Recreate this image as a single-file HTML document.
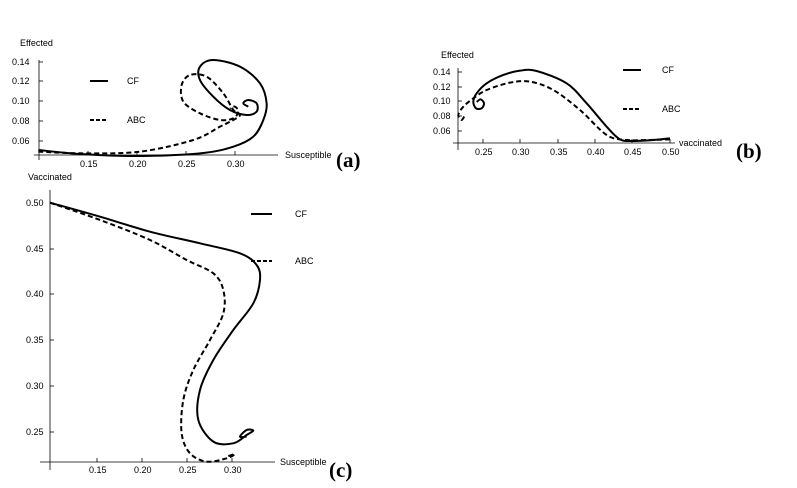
<!DOCTYPE html>
<html><head><meta charset="utf-8"><style>
body{margin:0;background:#fff;width:797px;height:488px;overflow:hidden}
svg{display:block}
text{font-family:"Liberation Sans",sans-serif;font-size:9px;fill:#000}
.lb{font-family:"Liberation Serif",serif;font-weight:bold;font-size:21px}
</style></head><body>
<svg width="797" height="488" viewBox="0 0 797 488">
<!-- (a) -->
<g stroke="#000" stroke-width="0.8" fill="none">
<line x1="39" y1="60" x2="39" y2="160"/>
<line x1="34" y1="155" x2="278" y2="155"/>
<line x1="88" y1="155" x2="88" y2="151"/><line x1="137" y1="155" x2="137" y2="151"/><line x1="186" y1="155" x2="186" y2="151"/><line x1="235" y1="155" x2="235" y2="151"/>
<line x1="39" y1="62" x2="43" y2="62"/><line x1="39" y1="81" x2="43" y2="81"/><line x1="39" y1="101" x2="43" y2="101"/><line x1="39" y1="121" x2="43" y2="121"/><line x1="39" y1="141" x2="43" y2="141"/>
</g>
<text x="20" y="46">Effected</text>
<text x="12" y="65">0.14</text><text x="12" y="84">0.12</text><text x="12" y="104">0.10</text><text x="12" y="124">0.08</text><text x="12" y="144">0.06</text>
<text x="80" y="167">0.15</text><text x="129" y="167">0.20</text><text x="178" y="167">0.25</text><text x="227" y="167">0.30</text>
<text x="285" y="158">Susceptible</text>
<text class="lb" x="336" y="167">(a)</text>
<line x1="90" y1="81" x2="108" y2="81" stroke="#000" stroke-width="2"/><text x="127" y="84">CF</text>
<line x1="90" y1="120" x2="108" y2="120" stroke="#000" stroke-width="2" stroke-dasharray="4,2"/><text x="127" y="123">ABC</text>
<g transform="translate(0,30) scale(0.3333)" fill="none" stroke="#000" stroke-width="6" stroke-linejoin="round">
<polyline class="s" points="115,360 240,372 400,378 600,370 700,350 760,320 790,270 800,220 780,160 720,110 640,90 600,110 600,150 640,200 690,240 740,255 770,245 770,220 745,210 730,220 745,230"/>
<polyline class="s" stroke-dasharray="15,9" points="115,365 250,370 420,365 580,330 660,290 700,270 720,255 700,240 670,190 620,140 570,135 545,165 550,215 600,250 660,270 700,265 715,245 705,230 690,235"/>
</g>
<!-- (b) -->
<g stroke="#000" stroke-width="0.8" fill="none">
<line x1="458" y1="68" x2="458" y2="150"/>
<line x1="453" y1="143" x2="675" y2="143"/>
<line x1="483" y1="143" x2="483" y2="139"/><line x1="520" y1="143" x2="520" y2="139"/><line x1="558" y1="143" x2="558" y2="139"/><line x1="595" y1="143" x2="595" y2="139"/><line x1="632" y1="143" x2="632" y2="139"/><line x1="670" y1="143" x2="670" y2="139"/>
<line x1="458" y1="72" x2="462" y2="72"/><line x1="458" y1="87" x2="462" y2="87"/><line x1="458" y1="101" x2="462" y2="101"/><line x1="458" y1="116" x2="462" y2="116"/><line x1="458" y1="131" x2="462" y2="131"/>
</g>
<text x="441" y="58">Effected</text>
<text x="433" y="75">0.14</text><text x="433" y="90">0.12</text><text x="433" y="104">0.10</text><text x="433" y="119">0.08</text><text x="433" y="134">0.06</text>
<text x="475" y="155">0.25</text><text x="512" y="155">0.30</text><text x="550" y="155">0.35</text><text x="587" y="155">0.40</text><text x="624" y="155">0.45</text><text x="662" y="155">0.50</text>
<text x="679" y="146">vaccinated</text>
<text class="lb" x="736" y="158">(b)</text>
<line x1="623" y1="70" x2="641" y2="70" stroke="#000" stroke-width="2"/><text x="662" y="73">CF</text>
<line x1="623" y1="109" x2="641" y2="109" stroke="#000" stroke-width="2" stroke-dasharray="4,2"/><text x="662" y="112">ABC</text>
<g transform="translate(420,40) scale(0.3333)" fill="none" stroke="#000" stroke-width="6" stroke-linejoin="round">
<polyline class="s" points="750,295 700,300 640,303 600,298 560,260 500,190 440,130 350,93 300,92 250,105 200,130 170,160 160,185 168,205 185,205 192,190 182,178 170,186"/>
<polyline class="s" stroke-dasharray="15,9" points="750,298 680,300 620,300 560,285 480,210 400,150 330,125 270,128 200,150 160,175 130,200 115,225 125,240 135,225"/>
</g>
<!-- (c) -->
<g stroke="#000" stroke-width="0.8" fill="none">
<line x1="50" y1="190" x2="50" y2="470"/>
<line x1="40" y1="462" x2="275" y2="462"/>
<line x1="97" y1="462" x2="97" y2="458"/><line x1="142" y1="462" x2="142" y2="458"/><line x1="187" y1="462" x2="187" y2="458"/><line x1="232" y1="462" x2="232" y2="458"/>
<line x1="50" y1="203" x2="54" y2="203"/><line x1="50" y1="249" x2="54" y2="249"/><line x1="50" y1="294" x2="54" y2="294"/><line x1="50" y1="340" x2="54" y2="340"/><line x1="50" y1="386" x2="54" y2="386"/><line x1="50" y1="432" x2="54" y2="432"/>
</g>
<text x="28" y="180">Vaccinated</text>
<text x="26" y="206">0.50</text><text x="26" y="252">0.45</text><text x="26" y="297">0.40</text><text x="26" y="343">0.35</text><text x="26" y="389">0.30</text><text x="26" y="435">0.25</text>
<text x="89" y="473">0.15</text><text x="134" y="473">0.20</text><text x="179" y="473">0.25</text><text x="224" y="473">0.30</text>
<text x="280" y="465">Susceptible</text>
<text class="lb" x="329" y="477">(c)</text>
<line x1="251" y1="214" x2="272" y2="214" stroke="#000" stroke-width="2"/><text x="295" y="217">CF</text>
<line x1="251" y1="261" x2="272" y2="261" stroke="#000" stroke-width="2" stroke-dasharray="4,2"/><text x="295" y="264">ABC</text>
<g transform="translate(0,180) scale(0.3333)" fill="none" stroke="#000" stroke-width="6" stroke-linejoin="round">
<polyline class="s" points="150,68 300,110 450,155 600,190 720,220 770,255 780,300 760,370 700,450 640,540 600,630 595,720 640,785 700,790 740,765 760,752 740,750 720,770 740,770"/>
<polyline class="s" stroke-dasharray="15,9" points="150,68 300,120 450,180 560,240 640,280 670,330 670,400 630,480 580,570 550,660 545,760 570,820 620,845 680,835 705,822 680,830"/>
</g>
</svg>
<script>
document.querySelectorAll('polyline.s').forEach(function(pl){
  var p=pl.getAttribute('points').trim().split(/\s+/).map(function(s){return s.split(',').map(Number);});
  var d='M'+p[0][0]+','+p[0][1];
  for(var i=0;i<p.length-1;i++){
    var p0=p[i-1]||p[i],p1=p[i],p2=p[i+1],p3=p[i+2]||p2;
    var c1x=p1[0]+(p2[0]-p0[0])/6,c1y=p1[1]+(p2[1]-p0[1])/6;
    var c2x=p2[0]-(p3[0]-p1[0])/6,c2y=p2[1]-(p3[1]-p1[1])/6;
    d+=' C'+c1x+','+c1y+' '+c2x+','+c2y+' '+p2[0]+','+p2[1];
  }
  var path=document.createElementNS('http://www.w3.org/2000/svg','path');
  path.setAttribute('d',d);
  if(pl.getAttribute('stroke-dasharray'))path.setAttribute('stroke-dasharray',pl.getAttribute('stroke-dasharray'));
  pl.parentNode.replaceChild(path,pl);
});
</script>
</body></html>
